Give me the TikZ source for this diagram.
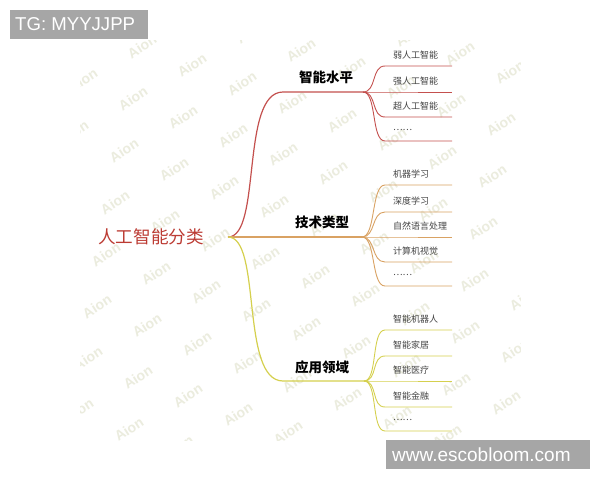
\documentclass[tikz,border=0pt]{standalone}
\usepackage{fontspec}
\setmainfont{Liberation Sans}
\newfontfamily\cjk{Noto Sans CJK SC}
\definecolor{cred}{HTML}{C4504E}
\definecolor{croot}{HTML}{BC3B33}
\definecolor{corange}{HTML}{D9A263}
\definecolor{cyellow}{HTML}{D5D04E}
\definecolor{cleaf}{HTML}{444444}
\definecolor{cmark}{HTML}{EBECDE}
\definecolor{cbox}{HTML}{A6A6A6}
\begin{document}
\begin{tikzpicture}[x=1pt,y=-1pt,
  branchline/.style={line width=1.2pt},
  leafline/.style={line width=0.9pt},
  leaftext/.style={anchor=west,inner sep=0pt,font=\cjk\fontsize{9}{10}\selectfont,text=cleaf},
  branchtext/.style={inner sep=0pt,font=\cjk\bfseries\fontsize{13.5}{15}\selectfont,text=black},
  wmark/.style={inner sep=0pt,rotate=33,font=\bfseries\fontsize{14}{16}\selectfont,text=cmark},
  tagbox/.style={fill=cbox,text=white,inner sep=0pt}]
\useasboundingbox (0,0) rectangle (600,480);
\fill[white] (0,0) rectangle (600,480);
% watermarks
\begin{scope}
\clip (80,40) rectangle (520,440);
\foreach \i in {-5,...,9}{
  \foreach \j in {-3,...,9}{
    \pgfmathsetmacro\wx{192+50*\i-9*\j}
    \pgfmathsetmacro\wy{65+18.5*\i+52*\j}
    \pgfmathtruncatemacro\inside{and(and(\wx>68,\wx<532),and(\wy>30,\wy<450))}
    \ifnum\inside=1
      \node[wmark] (wm\i x\j) at (\wx,\wy) {Aion};
    \fi
  }
}
\end{scope}
% root
\node[inner sep=0pt,font=\cjk\fontsize{17.6}{19}\selectfont,text=croot] (root) at (151,237) {人工智能分类};
\coordinate (r0) at (228,237);
% branch 1
\coordinate (b1s) at (283,92);
\coordinate (b1j) at (363,92);
\node[branchtext] (b1) at (326,77) {智能水平};
\draw[cred,branchline] (r0) .. controls (262,237) and (240,92) .. (b1s) -- (b1j);
% branch 2
\coordinate (b2j) at (362,237);
\node[branchtext] (b2) at (322,222) {技术类型};
\draw[corange,branchline] (r0) -- (b2j);
% branch 3
\coordinate (b3s) at (283,381);
\coordinate (b3j) at (364,381);
\node[branchtext] (b3) at (322,367) {应用领域};
\draw[cyellow,branchline] (r0) .. controls (262,237) and (240,381) .. (b3s) -- (b3j);
% leaves branch 1
\foreach \i/\y/\t in {1/66/弱人工智能,2/92/强人工智能,3/117/超人工智能,4/141/……}{
  \coordinate (l1s\i) at (385,\y);
  \coordinate (l1e\i) at (452,\y);
  \node[leaftext] (l1t\i) at (393,\y-11) {\t};
  \draw[cred,leafline] (b1j) .. controls (377,92) and (371,\y) .. (l1s\i) -- (l1e\i);
}
% leaves branch 2
\foreach \i/\y/\t in {1/185/机器学习,2/212/深度学习,3/237/自然语言处理,4/262/计算机视觉,5/286/……}{
  \coordinate (l2s\i) at (385,\y);
  \coordinate (l2e\i) at (452,\y);
  \node[leaftext] (l2t\i) at (393,\y-11) {\t};
  \draw[corange,leafline] (b2j) .. controls (376,237) and (371,\y) .. (l2s\i) -- (l2e\i);
}
% leaves branch 3
\foreach \i/\y/\t in {1/330/智能机器人,2/356/智能家居,3/381/智能医疗,4/407/智能金融,5/431/……}{
  \coordinate (l3s\i) at (385,\y);
  \coordinate (l3e\i) at (452,\y);
  \node[leaftext] (l3t\i) at (393,\y-11) {\t};
  \draw[cyellow,leafline] (b3j) .. controls (378,381) and (371,\y) .. (l3s\i) -- (l3e\i);
}
% tags
\node[tagbox,anchor=north west,minimum width=138pt,minimum height=29pt] (tg) at (10,10) {};
\node[anchor=west,inner sep=0pt,text=white,font=\fontsize{18.6}{20}\selectfont] (tgt) at (15,24.5) {TG: MYYJJPP};
\node[tagbox,anchor=north west,minimum width=204pt,minimum height=29pt] (www) at (386,440) {};
\node[anchor=west,inner sep=0pt,text=white,font=\fontsize{19}{20}\selectfont] (wwwt) at (392,454.5) {www.escobloom.com};
\end{tikzpicture}
\end{document}
